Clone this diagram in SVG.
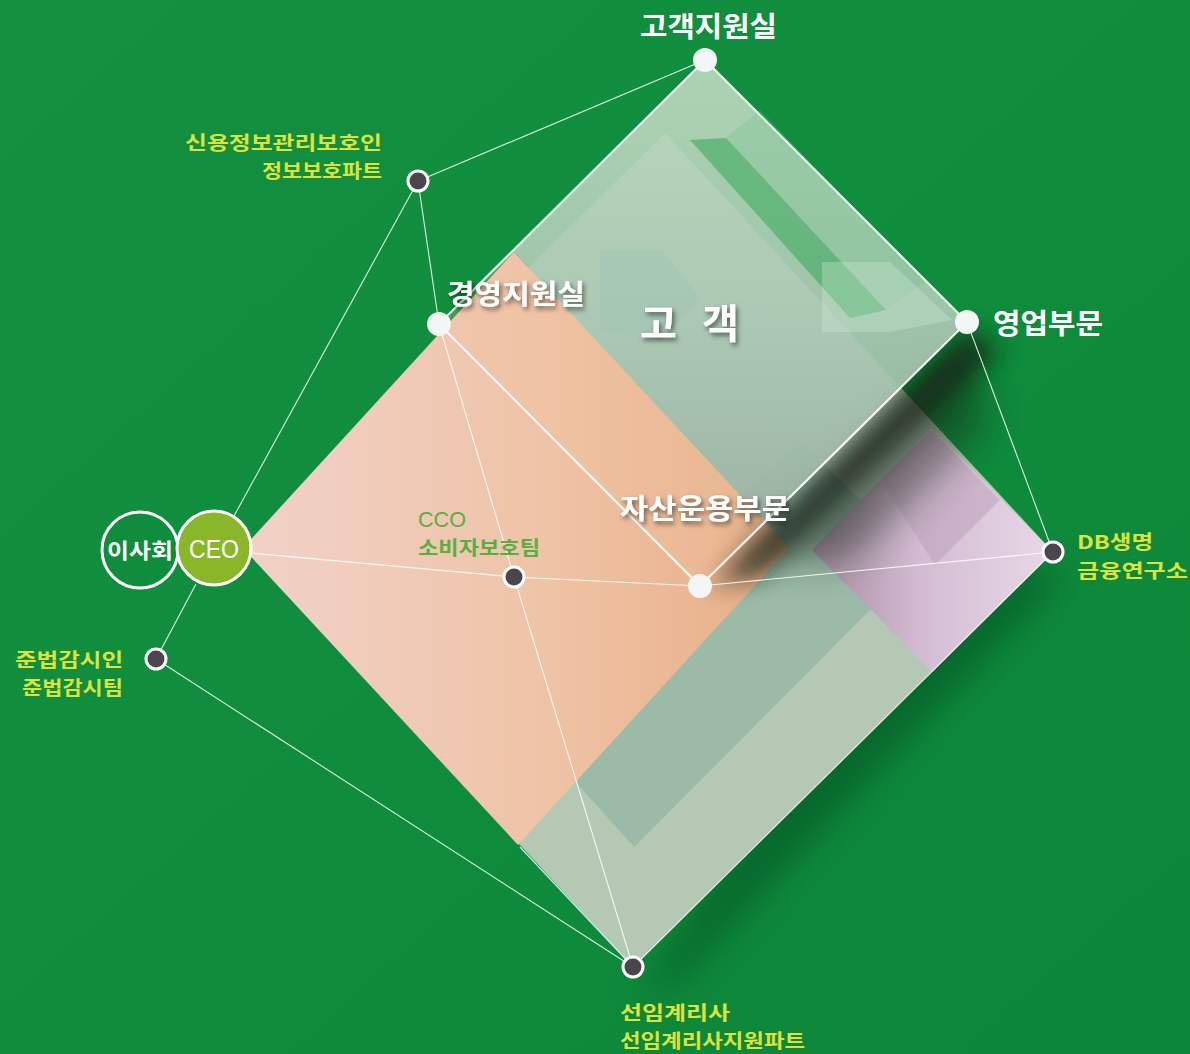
<svg xmlns="http://www.w3.org/2000/svg" width="1190" height="1054" viewBox="0 0 1190 1054">
<defs>
<style>
.kr{font-family:"Noto Sans CJK KR","Noto Sans",sans-serif;font-weight:700}
.lat{font-family:"Liberation Sans","Noto Sans",sans-serif}
.wl{fill:#ffffff}
.yl{fill:#dde23c;font-size:19px}
.gl{fill:#5aae3e;font-size:19px}
.conn{stroke:#ffffff;stroke-width:1.1;fill:none;opacity:0.85}
.dd{fill:#4a464c;stroke:#ffffff;stroke-width:3}
.wd{fill:#f2f6f4}
</style>
<linearGradient id="bg" x1="0" y1="0" x2="1" y2="1">
<stop offset="0" stop-color="#13913f"/>
<stop offset="0.6" stop-color="#0f8b3c"/>
<stop offset="1" stop-color="#0c8638"/>
</linearGradient>
<linearGradient id="peach" x1="0" y1="0" x2="1" y2="0">
<stop offset="0" stop-color="#f1d2c9"/>
<stop offset="0.55" stop-color="#efc3a6"/>
<stop offset="1" stop-color="#e7ae86"/>
</linearGradient>
<linearGradient id="lilac" x1="0" y1="0" x2="1" y2="0">
<stop offset="0" stop-color="#a58e9f"/>
<stop offset="0.45" stop-color="#d3bcd3"/>
<stop offset="1" stop-color="#e8d8e6"/>
</linearGradient>
<linearGradient id="sgrad" x1="0" y1="0" x2="0" y2="1">
<stop offset="0" stop-color="#b9dabd"/>
<stop offset="0.6" stop-color="#a9c7b3"/>
<stop offset="1" stop-color="#9cb3a2"/>
</linearGradient>
<filter id="blur" x="-30%" y="-30%" width="160%" height="160%"><feGaussianBlur stdDeviation="18"/></filter>
<filter id="blur2" x="-30%" y="-30%" width="160%" height="160%"><feGaussianBlur stdDeviation="12"/></filter>
<filter id="ts" x="-20%" y="-30%" width="140%" height="160%"><feDropShadow dx="2" dy="3" stdDeviation="2.5" flood-color="#000" flood-opacity="0.55"/></filter>
</defs>
<rect x="0" y="0" width="1190" height="1054" fill="url(#bg)"/>
<!-- soft shadow of big diamond -->
<polygon points="1070,570 680,980 640,1000 900,560" fill="#03401a" opacity="0.45" filter="url(#blur)"/>

<g id="shapes">
<!-- big grey-green diamond -->
<polygon id="bigDiamond" points="665,133 1053,552 633,967 245,548" fill="#b4c8b3"/>
<polygon points="634,847 920,560 800,440 520,720" fill="#97b7a4" opacity="0.85"/>
<!-- lilac diamond -->
<polygon id="lilacDiamond" points="932,428 1053,552 932,672 812,550" fill="url(#lilac)"/>
<polygon points="880,480 932,430 1000,500 935,565" fill="#b99fb8" opacity="0.5"/>
<!-- peach diamond -->
<polygon id="peachDiamond" points="514,252 789,548 518,845 243,548" fill="url(#peach)"/>
<!-- shadow cast by small diamond -->
<polygon points="967,330 712,586 760,575 1000,350" fill="#142018" opacity="0.8" filter="url(#blur2)"/>
<polygon points="955,340 740,560 850,560 990,420" fill="#142018" opacity="0.45" filter="url(#blur)"/>
<!-- small diamond -->
<polygon id="smallDiamond" points="705,60 967,322 765,522 514,252 443,321" fill="url(#sgrad)" opacity="0.92"/>
<polygon points="441,322 514,252 765,522 700,586" fill="#f0c3a0" opacity="0.25"/>
<polygon points="690,140 726,138 886,310 850,318" fill="#45ad66" opacity="0.65"/>
<polygon points="726,138 760,110 925,282 886,310" fill="#6cc083" opacity="0.25"/>
<polygon points="822,262 890,262 952,320 890,332 822,332" fill="#d8eed9" opacity="0.3"/>
<polygon points="600,250 662,250 700,298 662,340 600,330" fill="#98c4b2" opacity="0.3"/>
<polygon points="705,60 967,322 700,586 439,324" fill="none" stroke="#ffffff" stroke-width="2.2" opacity="0.9"/>
</g>

<g id="connectors">
<line class="conn" x1="418" y1="181" x2="705" y2="60"/>
<line class="conn" x1="418" y1="181" x2="234" y2="516"/>
<line class="conn" x1="418" y1="181" x2="439" y2="324"/>
<line class="conn" x1="439" y1="324" x2="514" y2="577"/>
<line class="conn" x1="514" y1="577" x2="633" y2="967"/>
<line class="conn" x1="250" y1="553" x2="514" y2="577"/>
<line class="conn" x1="514" y1="577" x2="700" y2="586"/>
<line class="conn" x1="700" y1="586" x2="1053" y2="552"/>
<line class="conn" x1="967" y1="322" x2="1053" y2="552"/>
<line class="conn" x1="1053" y1="552" x2="633" y2="967"/>
<line class="conn" x1="633" y1="967" x2="520" y2="847"/>
<line class="conn" x1="156" y1="659" x2="196" y2="584"/>
<line class="conn" x1="156" y1="659" x2="633" y2="967"/>
</g>

<g id="n-board">
<circle cx="140" cy="550" r="38" fill="#0f8d3d" stroke="#ffffff" stroke-width="3"/>
<text class="kr wl" x="140" y="558" font-size="21" text-anchor="middle" textLength="66" lengthAdjust="spacingAndGlyphs">이사회</text>
</g>
<g id="n-ceo">
<circle cx="214" cy="548" r="37" fill="#8ab72a" stroke="#ffffff" stroke-width="3"/>
<text class="lat" x="214" y="558" font-size="25" fill="#ffffff" text-anchor="middle" textLength="50" lengthAdjust="spacingAndGlyphs">CEO</text>
</g>
<g id="n-customer-support">
<circle class="wd" cx="705" cy="60" r="12"/>
<text class="kr wl" x="640" y="37" font-size="28" textLength="137" lengthAdjust="spacingAndGlyphs">고객지원실</text>
</g>
<g id="n-sales">
<circle class="wd" cx="967" cy="322" r="12"/>
<text class="kr wl" x="993" y="334" font-size="28" textLength="110" lengthAdjust="spacingAndGlyphs">영업부문</text>
</g>
<g id="n-management">
<circle class="wd" cx="439" cy="324" r="12"/>
<text class="kr wl" x="447" y="304" font-size="27" textLength="138" lengthAdjust="spacingAndGlyphs" filter="url(#ts)">경영지원실</text>
</g>
<g id="n-asset">
<circle class="wd" cx="700" cy="586" r="12"/>
<text class="kr wl" x="620" y="519" font-size="28" textLength="170" lengthAdjust="spacingAndGlyphs" filter="url(#ts)">자산운용부문</text>
</g>
<g id="n-customer">
<text class="kr wl" x="640" y="338" font-size="40" filter="url(#ts)">고</text>
<text class="kr wl" x="702" y="338" font-size="40" filter="url(#ts)">객</text>
</g>
<g id="n-privacy">
<circle class="dd" cx="418" cy="181" r="10"/>
<text class="kr yl" x="185" y="150" textLength="197" lengthAdjust="spacingAndGlyphs">신용정보관리보호인</text>
<text class="kr yl" x="262" y="178" textLength="120" lengthAdjust="spacingAndGlyphs">정보보호파트</text>
</g>
<g id="n-compliance">
<circle class="dd" cx="156" cy="659" r="10"/>
<text class="kr yl" x="15" y="667" textLength="108" lengthAdjust="spacingAndGlyphs">준법감시인</text>
<text class="kr yl" x="22" y="695" textLength="101" lengthAdjust="spacingAndGlyphs">준법감시팀</text>
</g>
<g id="n-cco">
<circle class="dd" cx="514" cy="577" r="10"/>
<text class="lat" x="418" y="527" font-size="22" fill="#5aae3e" textLength="48" lengthAdjust="spacingAndGlyphs">CCO</text>
<text class="kr gl" x="418" y="555" textLength="122" lengthAdjust="spacingAndGlyphs">소비자보호팀</text>
</g>
<g id="n-research">
<circle class="dd" cx="1053" cy="552" r="10"/>
<text class="kr yl" x="1077" y="549" textLength="76" lengthAdjust="spacingAndGlyphs">DB생명</text>
<text class="kr yl" x="1077" y="578" textLength="111" lengthAdjust="spacingAndGlyphs">금융연구소</text>
</g>
<g id="n-actuary">
<circle class="dd" cx="633" cy="967" r="10"/>
<text class="kr yl" x="620" y="1020" textLength="110" lengthAdjust="spacingAndGlyphs">선임계리사</text>
<text class="kr yl" x="620" y="1048" textLength="185" lengthAdjust="spacingAndGlyphs">선임계리사지원파트</text>
</g>
</svg>
